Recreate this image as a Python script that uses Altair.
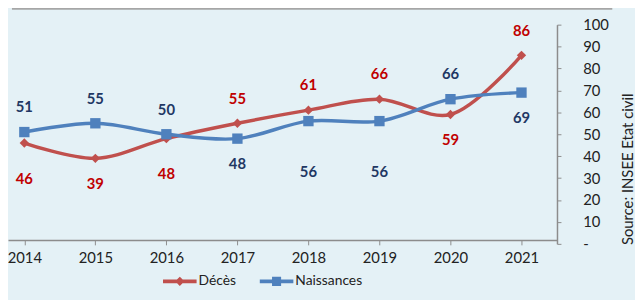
import altair as alt
import pandas as pd

years = [2014, 2015, 2016, 2017, 2018, 2019, 2020, 2021]
deces = [46, 39, 48, 55, 61, 66, 59, 86]
naissances = [51, 55, 50, 48, 56, 56, 66, 69]
deces_pos = ["down2", "down", "down2", "up", "up", "up", "down", "up"]
naiss_pos = ["up", "up", "up", "down", "down3", "down3", "up", "down"]
series = ["Décès", "Naissances"]
y_ticks = [0, 10, 20, 30, 40, 50, 60, 70, 80, 90, 100]

rows = []
for i, yr in enumerate(years):
    rows.append({"year": yr, "value": deces[i], "series": "Décès", "pos": deces_pos[i]})
    rows.append({"year": yr, "value": naissances[i], "series": "Naissances", "pos": naiss_pos[i]})
df = pd.DataFrame(rows)

line_colors = ["#c0504d", "#4f81bd"]
label_colors = ["#c00000", "#1f3864"]
marker_shapes = ["diamond", "square"]
marker_sizes = [90, 110]
FONT = "Lato"

x = alt.X("year:Q", title=None,
          scale=alt.Scale(domain=[2013.77, 2021.5], nice=False, zero=False),
          axis=alt.Axis(values=years, format="d", orient="bottom", offset=-4,
                        tickSize=5, labelPadding=6, labelFontSize=15,
                        labelColor="#222222", labelFont=FONT, domainColor="#8c8c8c",
                        tickColor="#8c8c8c", domainWidth=1.5, grid=False))
y = alt.Y("value:Q",
          scale=alt.Scale(domain=[0, 100], nice=False),
          axis=alt.Axis(orient="right", values=y_ticks, tickSize=4, labelPadding=22,
                        labelFontSize=15, labelColor="#222222", labelFont=FONT,
                        labelExpr="datum.value == 0 ? '-' : datum.label",
                        domainColor="#8c8c8c", tickColor="#8c8c8c", domainWidth=1.5,
                        grid=False, title="Source: INSEE Etat civil",
                        titleAngle=270, titleX=71, titleY=146, titleAlign="center",
                        titleBaseline="middle", titleFontSize=15, titleFontWeight="normal",
                        titleColor="#222222", titleFont=FONT))

base = alt.Chart(df)

offsets = {"up": -25, "down": 26, "down2": 36, "down3": 52}

layers = []
for s_idx, s in enumerate(series):
    sub = base.transform_filter(alt.datum.series == s)
    layers.append(sub.mark_line(interpolate="catmull-rom", strokeWidth=3.5,
                                color=line_colors[s_idx]).encode(x=x, y=y))
for s_idx, s in enumerate(series):
    sub = base.transform_filter(alt.datum.series == s)
    layers.append(sub.mark_point(shape=marker_shapes[s_idx], filled=True,
                                 size=marker_sizes[s_idx], opacity=1,
                                 color=line_colors[s_idx]).encode(x=x, y=y))
for s_idx, s in enumerate(series):
    for pos, dy in offsets.items():
        layers.append(
            base.transform_filter((alt.datum.pos == pos) & (alt.datum.series == s)).mark_text(
                dy=dy, fontSize=15, fontWeight="bold", font=FONT, baseline="middle",
                color=label_colors[s_idx]).encode(x=x, y=y, text="value:Q")
        )

diamond_path = "M-1,-0.11L1,-0.11L1,0.11L-1,0.11Z M0,-0.28L0.28,0L0,0.28L-0.28,0Z"
square_path = "M-1,-0.11L1,-0.11L1,0.11L-1,0.11Z M-0.27,-0.27L0.27,-0.27L0.27,0.27L-0.27,0.27Z"

leg = alt.Legend(title=None, orient="none", direction="horizontal",
                 legendX=157, legendY=243, symbolSize=1156,
                 symbolStrokeWidth=0, labelFontSize=14, labelFont=FONT,
                 labelColor="#222222", labelOffset=2, columnPadding=24,
                 padding=0, symbolOpacity=1)

legend_layer = base.mark_point(filled=True, opacity=0, size=1).encode(
    x=x, y=y,
    color=alt.Color("series:N", scale=alt.Scale(domain=series, range=line_colors), legend=leg),
    shape=alt.Shape("series:N", scale=alt.Scale(domain=series, range=[diamond_path, square_path]),
                    legend=leg),
)
layers.append(legend_layer)

top_rule = alt.Chart(alt.Data(values=[{"a": 1}])).mark_rule(
    color="#a6a6a6", strokeWidth=2).encode(
    x=alt.value(4), x2=alt.value(612), y=alt.value(-16))
layers.append(top_rule)

chart = alt.layer(*layers).properties(
    width=556, height=222,
    background="#e4f1f6",
    padding={"left": 0, "top": 15, "right": 79, "bottom": 55},
    autosize=alt.AutoSizeParams(type="none"),
).configure_view(stroke=None).configure_legend(symbolOpacity=1)

chart.save("out.html", embed_options={"renderer": "svg", "actions": False})
